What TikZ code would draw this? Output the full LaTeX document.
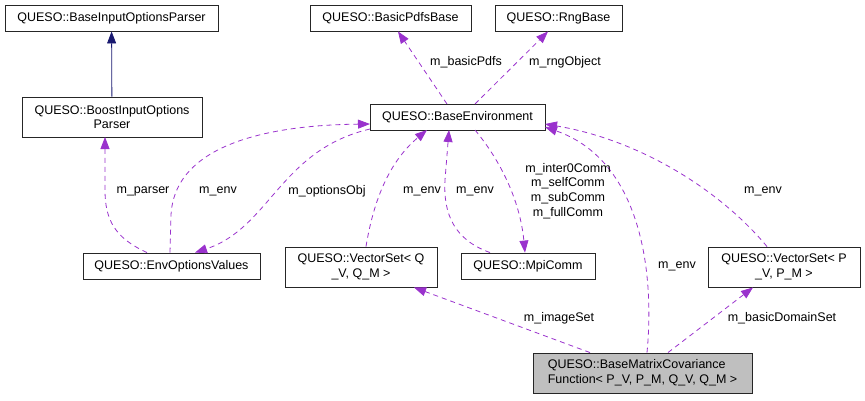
\documentclass[tikz,border=0pt]{standalone}
\usepackage{fontspec}
\setmainfont{Liberation Sans}
\usetikzlibrary{arrows.meta}
\definecolor{edgepurple}{HTML}{9A32CD}
\definecolor{edgenavy}{HTML}{191970}
\definecolor{mainfill}{HTML}{BFBFBF}
\begin{document}
\begin{tikzpicture}[x = 1pt, y = -1pt,
		every node/.style = {font = \fontsize{12.5}{14.6}\selectfont},
		box/.style = {draw = black!85, line width = 0.9pt, inner sep = 0pt, align = center, fill = white},
		dep/.style = {draw = edgepurple, line width = 0.8pt, dash pattern = on 5pt off 4pt, -{Triangle[length = 12pt, width = 9pt, fill = edgepurple]}},
		inh/.style = {draw = edgenavy, line width = 0.8pt, -{Triangle[length = 12pt, width = 9pt, fill = edgenavy]}},
		lbl/.style = {inner sep = 0pt, align = center}]
	\useasboundingbox (0, 0) rectangle (865, 400);

	\node [box, minimum width = 213pt, minimum height = 26pt] (baseparser) at (111.5, 18) {QUESO::BaseInputOptionsParser};
	\node [box, minimum width = 180pt, minimum height = 40pt] (boostparser) at (112, 117) {QUESO::BoostInputOptions\\Parser};
	\node [box, minimum width = 161pt, minimum height = 26pt] (pdfs) at (390.5, 18) {QUESO::BasicPdfsBase};
	\node [box, minimum width = 127pt, minimum height = 26pt] (rng) at (558.5, 18) {QUESO::RngBase};
	\node [box, minimum width = 175pt, minimum height = 26pt] (env) at (457.5, 117) {QUESO::BaseEnvironment};
	\node [box, minimum width = 177pt, minimum height = 26pt] (envopts) at (171.5, 266) {QUESO::EnvOptionsValues};
	\node [box, minimum width = 152pt, minimum height = 40pt] (vsq) at (361, 267) {QUESO::VectorSet< Q\\\_V, Q\_M >};
	\node [box, minimum width = 134pt, minimum height = 26pt] (mpi) at (528, 266) {QUESO::MpiComm};
	\node [box, minimum width = 152pt, minimum height = 40pt] (vsp) at (784, 267) {QUESO::VectorSet< P\\\_V, P\_M >};
	\node [box, fill = mainfill, align = left, minimum width = 219pt, minimum height = 40pt] (cov) at (642.5, 373) {QUESO::BaseMatrixCovariance\\Function< P\_V, P\_M, Q\_V, Q\_M >};

	\coordinate (parserin) at (105, 137);
	\coordinate (envl1) at (370, 124);
	\coordinate (envl2) at (370, 129);
	\coordinate (envb1) at (427, 130);
	\coordinate (envb2) at (449, 130);
	\coordinate (envb3) at (475, 130);
	\coordinate (envr1) at (545, 124);
	\coordinate (envr2) at (545, 127);
	\coordinate (envt1) at (447, 104);
	\coordinate (envt2) at (475, 104);

	\draw [inh] (boostparser) -- (baseparser);

	\draw [dep] (envopts.north -| 147, 0) .. controls (115, 238) and (105, 220) .. (105, 190) -- (parserin);
	\draw [dep] (envopts.north -| 170, 0) -- (171, 215) .. controls (175, 140) and (280, 125) .. (envl1);
	\draw [dep] (envl2) .. controls (280, 150) and (270, 228) .. (envopts.north -| 195, 0);

	\draw [dep] (vsq.north -| 366, 0) .. controls (372, 210) and (385, 165) .. (envb1);
	\draw [dep] (mpi.north -| 490, 0) .. controls (455, 240) and (443, 215) .. (445, 180) -- (envb2);
	\draw [dep] (envb3) .. controls (500, 160) and (520, 200) .. (mpi.north -| 525, 0);

	\draw [dep] (envt1) -- (pdfs.south -| 398, 0);
	\draw [dep] (envt2) -- (rng.south -| 548, 0);

	\draw [dep] (cov.north -| 647, 0) .. controls (655, 270) and (640, 160) .. (envr2);
	\draw [dep] (vsp.north -| 767, 0) .. controls (720, 190) and (640, 140) .. (envr1);

	\draw [dep] (cov.north -| 590, 0) -- (vsq.south -| 414, 0);
	\draw [dep] (cov.north -| 668, 0) -- (vsp.south -| 753, 0);

	\node [lbl] (lparser) at (143, 191) {m\_parser};
	\node [lbl] (lenv1) at (218, 191) {m\_env};
	\node [lbl] (lopts) at (327, 191) {m\_optionsObj};
	\node [lbl] (lenv2) at (422, 191) {m\_env};
	\node [lbl] (lenv3) at (475, 191) {m\_env};
	\node [lbl] (lcomm) at (568, 191) {m\_inter0Comm\\m\_selfComm\\m\_subComm\\m\_fullComm};
	\node [lbl] (lpdfs) at (466, 62) {m\_basicPdfs};
	\node [lbl] (lrng) at (565, 62) {m\_rngObject};
	\node [lbl] (lenv4) at (677, 266) {m\_env};
	\node [lbl] (lenv5) at (763, 191) {m\_env};
	\node [lbl] (limage) at (559, 318) {m\_imageSet};
	\node [lbl] (ldomain) at (782, 318) {m\_basicDomainSet};
\end{tikzpicture}
\end{document}
